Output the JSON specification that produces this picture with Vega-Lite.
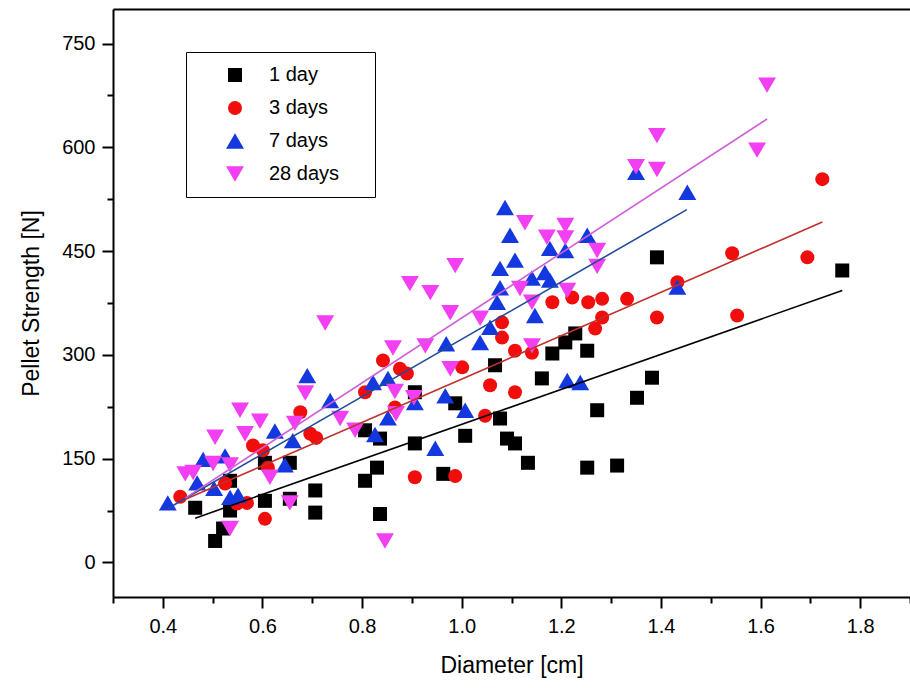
{
"$schema": "https://vega.github.io/schema/vega-lite/v6.json",
"width": 797, "height": 588,
"autosize": {"type": "none"},
"padding": {"left": 113, "top": 9, "right": 0, "bottom": 91},
"background": "white",
"config": {
  "font": "Liberation Sans",
  "view": {"stroke": null},
  "axis": {"grid": false, "domainColor": "#000", "domainWidth": 2, "tickColor": "#000", "tickWidth": 2,
           "labelColor": "#000", "labelFontSize": 20, "titleColor": "#000", "titleFontSize": 23, "titleFontWeight": "normal"}
},
"datasets": {
"points": [
{"s":"1 day","x":0.465,"y":79},{"s":"1 day","x":0.535,"y":118},{"s":"1 day","x":0.535,"y":75},{"s":"1 day","x":0.505,"y":31},{"s":"1 day","x":0.521,"y":49},{"s":"1 day","x":0.605,"y":89},{"s":"1 day","x":0.605,"y":144},{"s":"1 day","x":0.655,"y":144},{"s":"1 day","x":0.655,"y":92},{"s":"1 day","x":0.706,"y":104},{"s":"1 day","x":0.706,"y":72},{"s":"1 day","x":0.806,"y":191},{"s":"1 day","x":0.836,"y":179},{"s":"1 day","x":0.806,"y":118},{"s":"1 day","x":0.83,"y":137},{"s":"1 day","x":0.836,"y":70},{"s":"1 day","x":0.906,"y":172},{"s":"1 day","x":0.906,"y":246},{"s":"1 day","x":0.987,"y":230},{"s":"1 day","x":1.007,"y":183},{"s":"1 day","x":0.963,"y":128},{"s":"1 day","x":1.067,"y":285},{"s":"1 day","x":1.077,"y":208},{"s":"1 day","x":1.091,"y":179},{"s":"1 day","x":1.107,"y":172},{"s":"1 day","x":1.133,"y":144},{"s":"1 day","x":1.161,"y":266},{"s":"1 day","x":1.182,"y":302},{"s":"1 day","x":1.208,"y":318},{"s":"1 day","x":1.228,"y":331},{"s":"1 day","x":1.252,"y":306},{"s":"1 day","x":1.272,"y":220},{"s":"1 day","x":1.252,"y":137},{"s":"1 day","x":1.312,"y":140},{"s":"1 day","x":1.352,"y":238},{"s":"1 day","x":1.382,"y":267},{"s":"1 day","x":1.392,"y":441},{"s":"1 day","x":1.764,"y":422},
{"s":"3 days","x":0.435,"y":95},{"s":"3 days","x":0.525,"y":114},{"s":"3 days","x":0.569,"y":86},{"s":"3 days","x":0.549,"y":85},{"s":"3 days","x":0.605,"y":63},{"s":"3 days","x":0.611,"y":137},{"s":"3 days","x":0.581,"y":169},{"s":"3 days","x":0.601,"y":162},{"s":"3 days","x":0.676,"y":217},{"s":"3 days","x":0.696,"y":186},{"s":"3 days","x":0.708,"y":180},{"s":"3 days","x":0.806,"y":246},{"s":"3 days","x":0.842,"y":292},{"s":"3 days","x":0.876,"y":280},{"s":"3 days","x":0.89,"y":273},{"s":"3 days","x":0.866,"y":224},{"s":"3 days","x":0.906,"y":123},{"s":"3 days","x":0.987,"y":125},{"s":"3 days","x":1.001,"y":282},{"s":"3 days","x":1.047,"y":212},{"s":"3 days","x":1.057,"y":256},{"s":"3 days","x":1.107,"y":246},{"s":"3 days","x":1.081,"y":347},{"s":"3 days","x":1.081,"y":325},{"s":"3 days","x":1.107,"y":306},{"s":"3 days","x":1.141,"y":303},{"s":"3 days","x":1.182,"y":376},{"s":"3 days","x":1.222,"y":383},{"s":"3 days","x":1.254,"y":376},{"s":"3 days","x":1.282,"y":381},{"s":"3 days","x":1.282,"y":354},{"s":"3 days","x":1.268,"y":338},{"s":"3 days","x":1.332,"y":381},{"s":"3 days","x":1.392,"y":354},{"s":"3 days","x":1.433,"y":405},{"s":"3 days","x":1.543,"y":447},{"s":"3 days","x":1.553,"y":357},{"s":"3 days","x":1.694,"y":441},{"s":"3 days","x":1.724,"y":554},
{"s":"7 days","x":0.41,"y":86},{"s":"7 days","x":0.481,"y":149},{"s":"7 days","x":0.469,"y":115},{"s":"7 days","x":0.525,"y":154},{"s":"7 days","x":0.503,"y":107},{"s":"7 days","x":0.535,"y":94},{"s":"7 days","x":0.551,"y":97},{"s":"7 days","x":0.625,"y":190},{"s":"7 days","x":0.645,"y":141},{"s":"7 days","x":0.661,"y":176},{"s":"7 days","x":0.69,"y":270},{"s":"7 days","x":0.736,"y":234},{"s":"7 days","x":0.826,"y":185},{"s":"7 days","x":0.822,"y":260},{"s":"7 days","x":0.852,"y":266},{"s":"7 days","x":0.852,"y":209},{"s":"7 days","x":0.906,"y":231},{"s":"7 days","x":0.967,"y":241},{"s":"7 days","x":0.947,"y":165},{"s":"7 days","x":0.969,"y":316},{"s":"7 days","x":1.007,"y":220},{"s":"7 days","x":1.037,"y":318},{"s":"7 days","x":1.057,"y":340},{"s":"7 days","x":1.071,"y":376},{"s":"7 days","x":1.077,"y":397},{"s":"7 days","x":1.077,"y":425},{"s":"7 days","x":1.107,"y":437},{"s":"7 days","x":1.097,"y":473},{"s":"7 days","x":1.087,"y":513},{"s":"7 days","x":1.141,"y":411},{"s":"7 days","x":1.167,"y":419},{"s":"7 days","x":1.177,"y":408},{"s":"7 days","x":1.147,"y":357},{"s":"7 days","x":1.177,"y":454},{"s":"7 days","x":1.208,"y":451},{"s":"7 days","x":1.252,"y":473},{"s":"7 days","x":1.212,"y":263},{"s":"7 days","x":1.238,"y":260},{"s":"7 days","x":1.35,"y":564},{"s":"7 days","x":1.453,"y":535},{"s":"7 days","x":1.433,"y":398},
{"s":"28 days","x":0.445,"y":128},{"s":"28 days","x":0.461,"y":130},{"s":"28 days","x":0.505,"y":181},{"s":"28 days","x":0.501,"y":143},{"s":"28 days","x":0.535,"y":141},{"s":"28 days","x":0.565,"y":186},{"s":"28 days","x":0.555,"y":220},{"s":"28 days","x":0.595,"y":204},{"s":"28 days","x":0.615,"y":123},{"s":"28 days","x":0.655,"y":86},{"s":"28 days","x":0.535,"y":49},{"s":"28 days","x":0.665,"y":201},{"s":"28 days","x":0.686,"y":245},{"s":"28 days","x":0.726,"y":346},{"s":"28 days","x":0.756,"y":208},{"s":"28 days","x":0.786,"y":191},{"s":"28 days","x":0.862,"y":310},{"s":"28 days","x":0.868,"y":215},{"s":"28 days","x":0.866,"y":247},{"s":"28 days","x":0.904,"y":238},{"s":"28 days","x":0.846,"y":31},{"s":"28 days","x":0.927,"y":313},{"s":"28 days","x":0.977,"y":280},{"s":"28 days","x":0.896,"y":403},{"s":"28 days","x":0.937,"y":390},{"s":"28 days","x":0.977,"y":361},{"s":"28 days","x":0.987,"y":429},{"s":"28 days","x":1.037,"y":353},{"s":"28 days","x":1.117,"y":396},{"s":"28 days","x":1.141,"y":376},{"s":"28 days","x":1.141,"y":313},{"s":"28 days","x":1.127,"y":491},{"s":"28 days","x":1.171,"y":470},{"s":"28 days","x":1.208,"y":487},{"s":"28 days","x":1.208,"y":469},{"s":"28 days","x":1.212,"y":393},{"s":"28 days","x":1.272,"y":451},{"s":"28 days","x":1.272,"y":428},{"s":"28 days","x":1.35,"y":572},{"s":"28 days","x":1.392,"y":617},{"s":"28 days","x":1.392,"y":568},{"s":"28 days","x":1.593,"y":596},{"s":"28 days","x":1.613,"y":690}
],
"fits": [
{"s":"1 day","x":0.465,"y":64},{"s":"1 day","x":1.764,"y":393},
{"s":"3 days","x":0.435,"y":88},{"s":"3 days","x":1.724,"y":492},
{"s":"7 days","x":0.41,"y":78},{"s":"7 days","x":1.452,"y":510},
{"s":"28 days","x":0.445,"y":93},{"s":"28 days","x":1.613,"y":641}
]
},
"encoding": {
  "y": {"field": "y", "type": "quantitative",
        "scale": {"domain": [-50, 800], "nice": false, "zero": false},
        "axis": {"values": [0,75,150,225,300,375,450,525,600,675,750],
                 "labelExpr": "datum.value % 150 == 0 ? datum.label : ''",
                 "tickSize": {"condition": {"test": "datum.value % 150 == 0", "value": 11}, "value": 6},
                 "labelPadding": 7, "title": "Pellet Strength [N]", "titlePadding": 18}}
},
"layer": [
  {
    "data": {"name": "points"},
    "mark": {"type": "point", "filled": true, "size": 196, "opacity": 1, "strokeWidth": 0},
    "encoding": {
      "x": {"field": "x", "type": "quantitative",
            "scale": {"domain": [0.3, 1.9], "nice": false, "zero": false},
            "axis": {"values": [0.3,0.4,0.5,0.6,0.7,0.8,0.9,1.0,1.1,1.2,1.3,1.4,1.5,1.6,1.7,1.8,1.9],
                     "labelExpr": "round(datum.value*10) % 2 == 0 ? format(datum.value, '.1f') : ''",
                     "tickSize": {"condition": {"test": "round(datum.value*10) % 2 == 0", "value": 11}, "value": 6},
                     "labelPadding": 8, "title": "Diameter [cm]", "titlePadding": 18}},
      "color": {"field": "s", "type": "nominal",
                "scale": {"domain": ["1 day","3 days","7 days","28 days"], "range": ["#000000","#f20d0d","#1438e0","#f23ff2"]},
                "legend": {"orient": "none", "legendX": 73, "legendY": 43, "title": "WW", "titleColor": "#ffffff", "titleOrient": "right", "titleFontSize": 11, "titlePadding": 2,
                           "strokeColor": "#000", "fillColor": "#fff",
                           "padding": 13, "labelFontSize": 20, "labelColor": "#000", "symbolSize": 196, "symbolOffset": 26,
                           "labelOffset": 24, "rowPadding": 13, "symbolStrokeWidth": 0}},
      "shape": {"field": "s", "type": "nominal",
                "scale": {"domain": ["1 day","3 days","7 days","28 days"],
                          "range": ["square","circle","M-1.28,1.1L1.28,1.1L0,-1.1Z","M-1.28,-1.1L1.28,-1.1L0,1.1Z"]},
                "legend": {"orient": "none", "legendX": 73, "legendY": 43, "title": "WW", "titleColor": "#ffffff", "titleOrient": "right", "titleFontSize": 11, "titlePadding": 2,
                           "strokeColor": "#000", "fillColor": "#fff",
                           "padding": 13, "labelFontSize": 20, "labelColor": "#000", "symbolSize": 196, "symbolOffset": 26,
                           "labelOffset": 24, "rowPadding": 13, "symbolStrokeWidth": 0}}
    }
  },
  {
    "data": {"name": "fits"},
    "mark": {"type": "line", "strokeWidth": 1.6},
    "encoding": {
      "x": {"field": "x", "type": "quantitative",
            "axis": {"orient": "top", "labels": false, "ticks": false, "title": null, "domain": true}},
      "stroke": {"field": "s", "type": "nominal",
                "scale": {"domain": ["1 day","3 days","7 days","28 days"], "range": ["#000000","#c0302c","#224b9a","#cf5fd8"]},
                "legend": null}
    }
  }
],
"resolve": {"axis": {"x": "independent"}}
}
